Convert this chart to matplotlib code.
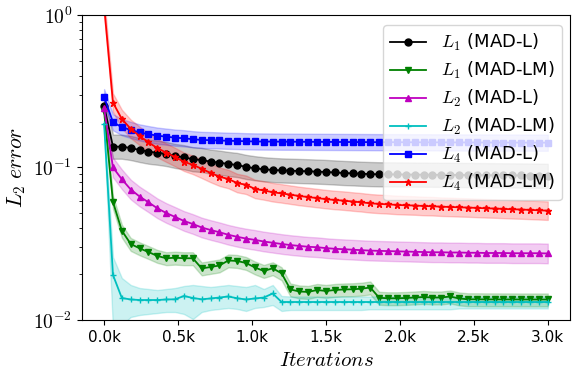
import numpy as np
import matplotlib
matplotlib.use("Agg")
import matplotlib.pyplot as plt
from matplotlib.ticker import FixedLocator, FixedFormatter, LogLocator, NullFormatter

plt.rcParams['mathtext.fontset'] = 'cm'
plt.rcParams['font.family'] = ['DejaVu Sans']

# ---------------- data ----------------
iterations = list(range(0, 3001, 60))

l1_madl = [0.253, 0.1369, 0.1369, 0.1342, 0.1302, 0.1269, 0.1250, 0.1226, 0.1190, 0.1167,
           0.1132, 0.1120, 0.1091, 0.1075, 0.1054, 0.1038, 0.1008, 0.0988, 0.0973, 0.0963,
           0.0956, 0.0952, 0.0948, 0.0944, 0.0939, 0.0934, 0.0927, 0.0920, 0.0915, 0.0909,
           0.0905, 0.0902, 0.0901, 0.0900, 0.0899, 0.0898, 0.0897, 0.0896, 0.0895, 0.0894,
           0.0893, 0.0892, 0.0891, 0.0890, 0.0889, 0.0888, 0.0887, 0.0886, 0.0885, 0.0883,
           0.0881]

l1_madlm = [0.235, 0.0594, 0.0385, 0.0315, 0.0295, 0.0279, 0.0263, 0.0254, 0.0256, 0.0254,
            0.0254, 0.02177, 0.02226, 0.02277, 0.02456, 0.02437, 0.02364, 0.02209, 0.02096, 0.02183,
            0.02024, 0.01585, 0.01538, 0.01527, 0.01573, 0.01550, 0.01573, 0.01585, 0.01590, 0.01604,
            0.01633, 0.01398, 0.01388, 0.01388, 0.01394, 0.01404, 0.01415, 0.01404, 0.01404, 0.01426,
            0.01384, 0.01367, 0.01367, 0.01365, 0.01365, 0.01364, 0.01364, 0.01363, 0.01363, 0.01363,
            0.01363]

l2_madl = [0.2444, 0.1000, 0.0837, 0.0717, 0.0645, 0.0591, 0.0540, 0.0503, 0.0474, 0.0446,
           0.0426, 0.0404, 0.0389, 0.0376, 0.0362, 0.0351, 0.0342, 0.0335, 0.0327, 0.0321,
           0.0315, 0.0310, 0.0306, 0.0302, 0.0300, 0.0296, 0.0293, 0.0291, 0.0289, 0.0287,
           0.0285, 0.0284, 0.0283, 0.0282, 0.0281, 0.0280, 0.0279, 0.0278, 0.0278, 0.0277,
           0.0277, 0.0276, 0.0276, 0.0275, 0.0275, 0.0275, 0.0274, 0.0274, 0.0274, 0.0274,
           0.0273]

l2_madlm = [0.1928, 0.01973, 0.01394, 0.01363, 0.01352, 0.01352, 0.01352, 0.01363, 0.01367, 0.01437,
            0.01394, 0.01367, 0.01384, 0.01404, 0.01426, 0.01388, 0.01363, 0.01384, 0.01404, 0.01492,
            0.01312, 0.01312, 0.01312, 0.01312, 0.01312, 0.01312, 0.01312, 0.01312, 0.01312, 0.01312,
            0.01312, 0.01312, 0.01312, 0.01312, 0.01312, 0.01312, 0.01312, 0.01312, 0.01312, 0.01312,
            0.01312, 0.01312, 0.01312, 0.01312, 0.01312, 0.01312, 0.01312, 0.01312, 0.01312, 0.01312,
            0.01312]
l2_madlm_hi = [0.215, 0.02588, 0.01885, 0.01697, 0.01621, 0.01597, 0.01573, 0.01597, 0.01621, 0.01671,
               0.01697, 0.01671, 0.01646, 0.01671, 0.01697, 0.01671, 0.01646, 0.01697, 0.01597, 0.01697,
               0.01437, 0.01426, 0.01426, 0.01426, 0.01426, 0.01426, 0.01426, 0.01426, 0.01426, 0.01426,
               0.01426, 0.01426, 0.01426, 0.01426, 0.01426, 0.01426, 0.01426, 0.01426, 0.01426, 0.01426,
               0.01426, 0.01426, 0.01426, 0.01426, 0.01426, 0.01426, 0.01426, 0.01426, 0.01426, 0.01426,
               0.01426]
l2_madlm_lo = [0.170, 0.0086, 0.00927, 0.01046, 0.01078, 0.01095, 0.01111, 0.01128, 0.01128, 0.01095,
               0.01015, 0.01128, 0.01163, 0.01181, 0.01199, 0.01181, 0.01146, 0.01199, 0.01217, 0.01254,
               0.01146, 0.01163, 0.01163, 0.01163, 0.01163, 0.01163, 0.01163, 0.01163, 0.01163, 0.01163,
               0.01175, 0.01175, 0.01175, 0.01175, 0.01175, 0.01175, 0.01175, 0.01175, 0.01175, 0.01175,
               0.01190, 0.01190, 0.01190, 0.01190, 0.01190, 0.01190, 0.01190, 0.01190, 0.01190, 0.01190,
               0.01190]

l4_madl = [0.289, 0.198, 0.1837, 0.1762, 0.1697, 0.1654, 0.1616, 0.1592, 0.1568, 0.1554,
           0.1531, 0.1515, 0.1510, 0.1503, 0.1496, 0.1492, 0.1485, 0.1481, 0.1479, 0.1478,
           0.1476, 0.1475, 0.1474, 0.1473, 0.1472, 0.1471, 0.1470, 0.1469, 0.1468, 0.1467,
           0.1466, 0.1465, 0.1464, 0.1464, 0.1463, 0.1462, 0.1462, 0.1461, 0.1460, 0.1460,
           0.1459, 0.1458, 0.1458, 0.1457, 0.1457, 0.1456, 0.1456, 0.1455, 0.1455, 0.1454,
           0.1454]

l4_madlm = [1.15, 0.266, 0.208, 0.179, 0.161, 0.146, 0.134, 0.125, 0.117, 0.109,
            0.104, 0.098, 0.092, 0.087, 0.084, 0.079, 0.077, 0.0723, 0.0707, 0.0688,
            0.0676, 0.0663, 0.0650, 0.0640, 0.0630, 0.0620, 0.0612, 0.0606, 0.0598, 0.0591,
            0.0582, 0.0577, 0.0573, 0.0568, 0.0565, 0.0563, 0.0559, 0.0557, 0.0553, 0.0551,
            0.0548, 0.0546, 0.0543, 0.0540, 0.0538, 0.0535, 0.0532, 0.0530, 0.0527, 0.0524,
            0.0521]

# multiplicative half-widths of the shaded bands (upper, lower)
band_l1_madl = (1.20, 1.20)
band_l1_madlm = (1.095, 1.11)
band_l2_madl = (1.16, 1.16)
band_l4_madl = (1.13, 1.13)
band_l4_madlm = (1.15, 1.15)

labels = [r'$L_1$ (MAD-L)', r'$L_1$ (MAD-LM)', r'$L_2$ (MAD-L)',
          r'$L_2$ (MAD-LM)', r'$L_4$ (MAD-L)', r'$L_4$ (MAD-LM)']
xticks = [0, 500, 1000, 1500, 2000, 2500, 3000]
xticklabels = ['0.0k', '0.5k', '1.0k', '1.5k', '2.0k', '2.5k', '3.0k']
yticks = [1e-2, 1e-1, 1e0]
yticklabels = [r'$10^{-2}$', r'$10^{-1}$', r'$10^{0}$']

# ---------------- plot ----------------
fig = plt.figure(figsize=(5.81, 3.83), dpi=100)
ax = fig.add_axes([0.141, 0.1645, 0.840, 0.7965])

x = np.array(iterations)

def band(y, f):
    y = np.array(y)
    return y / f[1], y * f[0]

series = [
    (l1_madl, band(l1_madl, band_l1_madl), 'k', 'o', 5.0),
    (l1_madlm, band(l1_madlm, band_l1_madlm), 'g', 'v', 5.0),
    (l2_madl, band(l2_madl, band_l2_madl), 'm', '^', 5.0),
    (l2_madlm, (np.array(l2_madlm_lo), np.array(l2_madlm_hi)), 'c', '+', 4.5),
    (l4_madl, band(l4_madl, band_l4_madl), 'b', 's', 4.3),
    (l4_madlm, band(l4_madlm, band_l4_madlm), 'r', '*', 4.5),
]

for (y, (lo, hi), c, m, ms), lab in zip(series, labels):
    ax.plot(x, y, color=c, marker=m, markersize=ms, lw=1.3, label=lab)
    ax.fill_between(x, lo, hi, color=c, alpha=0.2)

ax.set_yscale('log')
ax.set_ylim(1e-2, 1e0)
ax.set_xlim(-150, 3150)

ax.xaxis.set_major_locator(FixedLocator(xticks))
ax.xaxis.set_major_formatter(FixedFormatter(xticklabels))
ax.yaxis.set_major_locator(FixedLocator(yticks))
ax.yaxis.set_major_formatter(FixedFormatter(yticklabels))
ax.yaxis.set_minor_locator(LogLocator(base=10, subs=np.arange(2, 10)))
ax.yaxis.set_minor_formatter(NullFormatter())
ax.tick_params(axis='x', labelsize=11)
ax.tick_params(axis='y', labelsize=14)

ax.set_xlabel(r'$Iterations$', fontsize=15)
ax.set_ylabel(r'$L_2\ error$', fontsize=15.5)

ax.legend(loc='upper right', fontsize=13, labelspacing=0.38,
          bbox_to_anchor=(0.983, 0.967), borderaxespad=0)

fig.savefig('out.png', dpi=100)
